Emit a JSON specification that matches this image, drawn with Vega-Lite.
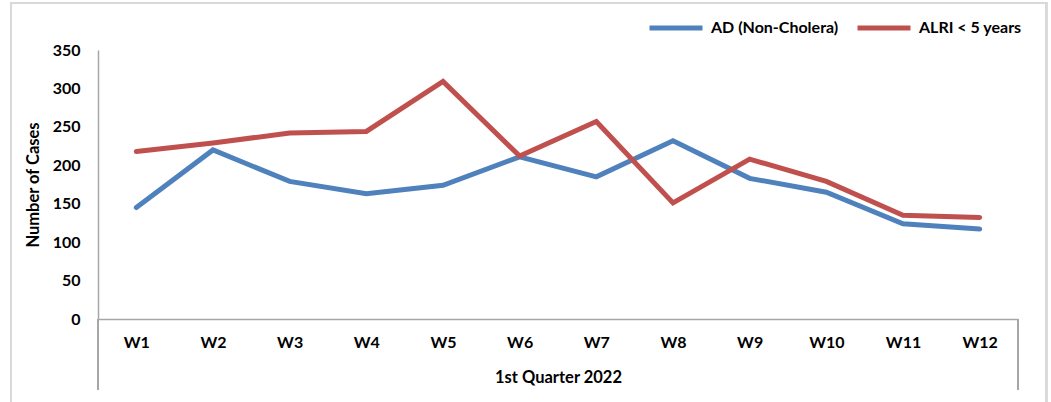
{
  "$schema": "https://vega.github.io/schema/vega-lite/v6.json",
  "width": 920,
  "height": 269,
  "autosize": "none",
  "padding": {"left": 98, "top": 50, "right": 33, "bottom": 83},
  "config": {
    "view": {"stroke": null},
    "font": "Lato",
    "axis": {"labelColor": "#000000", "titleColor": "#000000", "labelFontWeight": "bold", "titleFontWeight": "bold", "labelFontSize": 16, "titleFontSize": 16.5, "grid": false, "ticks": false, "domainColor": "#a6a6a6", "domainWidth": 1.5, "labelOverlap": false}
  },
  "data": {
    "values": [
      {"week": 1, "series": "AD (Non-Cholera)", "cases": 145},
      {"week": 2, "series": "AD (Non-Cholera)", "cases": 220},
      {"week": 3, "series": "AD (Non-Cholera)", "cases": 179},
      {"week": 4, "series": "AD (Non-Cholera)", "cases": 163},
      {"week": 5, "series": "AD (Non-Cholera)", "cases": 174},
      {"week": 6, "series": "AD (Non-Cholera)", "cases": 211},
      {"week": 7, "series": "AD (Non-Cholera)", "cases": 185},
      {"week": 8, "series": "AD (Non-Cholera)", "cases": 232},
      {"week": 9, "series": "AD (Non-Cholera)", "cases": 183},
      {"week": 10, "series": "AD (Non-Cholera)", "cases": 165},
      {"week": 11, "series": "AD (Non-Cholera)", "cases": 124},
      {"week": 12, "series": "AD (Non-Cholera)", "cases": 117},
      {"week": 1, "series": "ALRI < 5 years", "cases": 218},
      {"week": 2, "series": "ALRI < 5 years", "cases": 229},
      {"week": 3, "series": "ALRI < 5 years", "cases": 242},
      {"week": 4, "series": "ALRI < 5 years", "cases": 244},
      {"week": 5, "series": "ALRI < 5 years", "cases": 309},
      {"week": 6, "series": "ALRI < 5 years", "cases": 212},
      {"week": 7, "series": "ALRI < 5 years", "cases": 257},
      {"week": 8, "series": "ALRI < 5 years", "cases": 151},
      {"week": 9, "series": "ALRI < 5 years", "cases": 208},
      {"week": 10, "series": "ALRI < 5 years", "cases": 179},
      {"week": 11, "series": "ALRI < 5 years", "cases": 135},
      {"week": 12, "series": "ALRI < 5 years", "cases": 132}
    ]
  },
  "layer": [
    {
      "mark": {"type": "line", "strokeWidth": 5, "strokeCap": "round", "strokeJoin": "miter"},
      "encoding": {
        "x": {
          "field": "week", "type": "quantitative",
          "scale": {"domain": [0.5, 12.5], "nice": false, "zero": false},
          "axis": {"values": [1,2,3,4,5,6,7,8,9,10,11,12], "labelExpr": "'W' + datum.value", "title": "1st Quarter 2022", "labelPadding": 15, "titlePadding": 19, "labelFlush": false, "labelOverlap": false}
        },
        "y": {
          "field": "cases", "type": "quantitative",
          "scale": {"domain": [0, 350], "nice": false},
          "axis": {"values": [0,50,100,150,200,250,300,350], "tickCount": 8, "title": "Number of Cases", "labelPadding": 18, "titlePadding": 11, "labelOverlap": false, "labelFlush": false}
        },
        "color": {
          "field": "series", "type": "nominal",
          "scale": {"domain": ["AD (Non-Cholera)", "ALRI < 5 years"], "range": ["#4f81bd", "#c0504d"]},
          "legend": {"orient": "none", "legendX": 549, "legendY": -51, "direction": "horizontal", "title": null, "symbolType": "stroke", "symbolSize": 2809, "symbolStrokeWidth": 5, "labelFontSize": 16, "labelFontWeight": "bold", "labelColor": "#000000", "labelOffset": 6, "columnPadding": 8, "padding": 0}
        }
      }
    },
    {
      "mark": {"type": "rule", "color": "#a6a6a6", "strokeWidth": 1.5},
      "encoding": {
        "x": {"datum": 0.5, "type": "quantitative"},
        "y": {"datum": 0, "type": "quantitative"},
        "y2": {"datum": -92}
      }
    },
    {
      "mark": {"type": "rule", "color": "#a6a6a6", "strokeWidth": 1.5},
      "encoding": {
        "x": {"datum": 12.5, "type": "quantitative"},
        "y": {"datum": 0, "type": "quantitative"},
        "y2": {"datum": -92}
      }
    },
    {
      "mark": {"type": "rect", "fillOpacity": 0, "stroke": "#d9d9d9", "strokeWidth": 1.5},
      "encoding": {
        "x": {"datum": -0.635, "type": "quantitative"},
        "x2": {"datum": 12.87},
        "y": {"datum": 411, "type": "quantitative"},
        "y2": {"datum": -130}
      }
    }
  ]
}
